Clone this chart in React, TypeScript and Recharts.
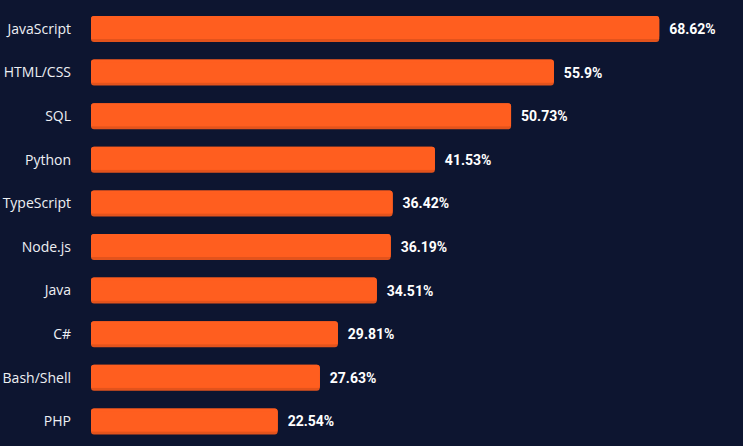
import { BarChart, Bar, XAxis, YAxis, LabelList } from 'recharts';

const LANGUAGES = [
  'JavaScript',
  'HTML/CSS',
  'SQL',
  'Python',
  'TypeScript',
  'Node.js',
  'Java',
  'C#',
  'Bash/Shell',
  'PHP',
];
const SHARE = [68.62, 55.9, 50.73, 41.53, 36.42, 36.19, 34.51, 29.81, 27.63, 22.54];

const BG = '#0d1530';
const ORANGE = '#ff5e1f';
const ORANGE_DARK = '#e3531c';

const data = LANGUAGES.map((name, i) => ({ name, value: SHARE[i] }));

// rounded bar with a slightly darker lip along the bottom
function LipBar(props: any) {
  const { x, y, width, height } = props;
  if (!width || width <= 0) return null;
  const r = 3;
  return (
    <g>
      <rect x={x} y={y} width={width} height={height} rx={r} ry={r} fill={ORANGE_DARK} />
      <rect x={x} y={y} width={width} height={height - 3} rx={r} ry={r} fill={ORANGE} />
      <rect x={x} y={y + r} width={width} height={height - 3 - r} fill={ORANGE} />
    </g>
  );
}

export default function App() {
  return (
    <div style={{ position: 'absolute', left: 0, top: 0, width: 743, height: 446, background: BG }}>
      <BarChart
        width={743}
        height={446}
        data={data}
        layout="vertical"
        margin={{ top: 7, right: 31, bottom: 3, left: 0 }}
        barSize={26}
      >
        <XAxis type="number" domain={[0, 75]} hide />
        <YAxis
          type="category"
          dataKey="name"
          width={91}
          axisLine={false}
          tickLine={false}
          tickSize={0}
          tickMargin={20}
          tick={{ fill: '#eef0f4', fontSize: 14, fontFamily: 'Open Sans' }}
        />
        <Bar dataKey="value" shape={<LipBar />} isAnimationActive={false}>
          <LabelList
            dataKey="value"
            position="right"
            offset={10}
            formatter={(v: any) => `${v}%`}
            style={{ fill: '#ffffff', fontSize: 14, fontWeight: 700, fontFamily: 'Roboto' }}
          />
        </Bar>
      </BarChart>
    </div>
  );
}
